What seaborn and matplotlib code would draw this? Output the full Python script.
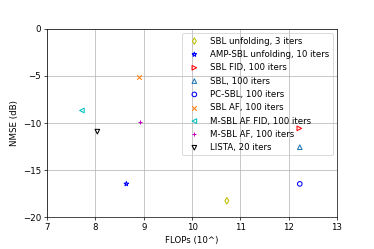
import matplotlib
matplotlib.use("Agg")
import matplotlib.pyplot as plt
import seaborn as sns

# Data
labels = [
    "SBL unfolding, 3 iters",
    "AMP-SBL unfolding, 10 iters",
    "SBL FID, 100 iters",
    "SBL, 100 iters",
    "PC-SBL, 100 iters",
    "SBL AF, 100 iters",
    "M-SBL AF FID, 100 iters",
    "M-SBL AF, 100 iters",
    "LISTA, 20 iters",
]
flops = [10.72, 8.64, 12.22, 12.23, 12.23, 8.91, 7.72, 8.92, 8.04]
nmse = [-18.3, -16.5, -10.6, -12.6, -16.5, -5.1, -8.7, -9.95, -10.95]
markers = ["d", "*", ">", "^", "o", "x", "<", "+", "v"]
colors = ["#bfbf00", "blue", "red", "#1f77b4", "blue", "#ff7f0e", "#00bfbf", "#bf00bf", "black"]


def main():
    fig, ax = plt.subplots(figsize=(6, 4), dpi=374 / 6)
    fig.subplots_adjust(left=0.126, right=0.901, top=0.884, bottom=0.129)

    for lab, x, y, m, c in zip(labels, flops, nmse, markers, colors):
        kw = dict(color=c, marker=m, s=28, linewidth=1.2, label=lab, ax=ax, zorder=3)
        if m not in ("x", "+"):
            kw["facecolor"] = "none"
            kw["edgecolor"] = c
        sns.scatterplot(x=[x], y=[y], **kw)

    ax.set_xlim(7, 13)
    ax.set_ylim(-20, 0)
    ax.set_xticks(range(7, 14))
    ax.set_yticks([-20, -15, -10, -5, 0])
    ax.set_xlabel("FLOPs (10^)")
    ax.set_ylabel("NMSE (dB)")
    ax.grid(True)
    ax.set_axisbelow(True)
    leg = ax.legend(loc="upper right", facecolor="none")
    leg.set_zorder(2)

    fig.savefig("out.png", dpi=374 / 6)


if __name__ == "__main__":
    main()
